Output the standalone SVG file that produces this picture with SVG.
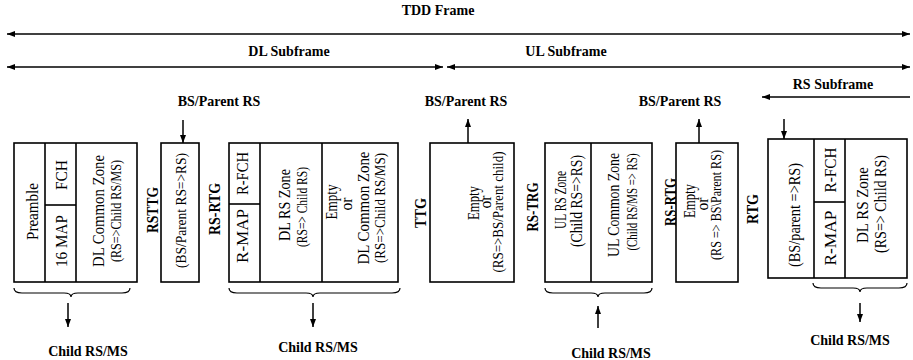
<svg xmlns="http://www.w3.org/2000/svg" width="913" height="360" viewBox="0 0 913 360">
<style>
text{font-family:"Liberation Serif","Times New Roman",serif;fill:#000}
.h{font-size:14px;font-weight:bold;text-anchor:middle}
.m{font-size:17px;text-anchor:middle}
.s{font-size:14px;text-anchor:middle}
.g{font-size:16px;font-weight:bold;text-anchor:middle}
.box{fill:#fff;stroke:#000;stroke-width:1.6}
.ln{stroke:#000;stroke-width:1.6;fill:none}
.ar{stroke:#000;stroke-width:1.5;fill:none;marker-end:url(#ah)}
.dar{stroke:#000;stroke-width:1.6;fill:none;marker-end:url(#ah);marker-start:url(#ah)}
.br{stroke:#000;stroke-width:1.2;fill:none}
</style>
<defs>
<marker id="ah" viewBox="0 0 8 6" refX="8" refY="3" markerWidth="8" markerHeight="6" markerUnits="userSpaceOnUse" orient="auto-start-reverse">
<path d="M0,0 L8,3 L0,6 z" fill="#000"/>
</marker>
</defs>
<rect width="913" height="360" fill="#fff"/>

<g id="connectors">
<line class="dar" x1="7" y1="34" x2="910" y2="34"/>
<line class="dar" x1="7" y1="67" x2="443" y2="67"/>
<line class="dar" x1="447" y1="67" x2="910" y2="67"/>
<line class="ar" x1="910" y1="97" x2="762" y2="97"/>
<line class="ar" x1="183" y1="120" x2="183" y2="143"/>
<line class="ar" x1="468" y1="143" x2="468" y2="119"/>
<line class="ar" x1="699" y1="143" x2="699" y2="119"/>
<line class="ar" x1="784" y1="119" x2="784" y2="139"/>
<path class="br" d="M14,288 Q14,293 22,293 L64,293 Q71,293 71,297 Q71,293 78,293 L122,293 Q130,293 130,288"/>
<path class="br" d="M229,288 Q229,293 237,293 L306,293 Q313,293 313,297 Q313,293 320,293 L392,293 Q400,293 400,288"/>
<path class="br" d="M545,288 Q545,293 553,293 L591,293 Q598,293 598,297 Q598,293 605,293 L644,293 Q652,293 652,288"/>
<path class="br" d="M813,283 Q813,288 821,288 L853,288 Q860,288 860,292 Q860,288 867,288 L899,288 Q907,288 907,283"/>
<line class="ar" x1="68" y1="303" x2="68" y2="327"/>
<line class="ar" x1="313" y1="303" x2="313" y2="327"/>
<line class="ar" x1="598" y1="328" x2="598" y2="306"/>
<line class="ar" x1="860" y1="303" x2="860" y2="322"/>
</g>

<g id="labels">
<text class="h" x="438" y="15">TDD Frame</text>
<text class="h" x="289" y="56">DL Subframe</text>
<text class="h" x="566" y="56">UL Subframe</text>
<text class="h" x="833" y="89">RS Subframe</text>
<text class="h" x="219" y="106">BS/Parent RS</text>
<text class="h" x="466" y="106">BS/Parent RS</text>
<text class="h" x="680" y="106">BS/Parent RS</text>
<text class="h" x="88" y="356">Child RS/MS</text>
<text class="h" x="318" y="352">Child RS/MS</text>
<text class="h" x="611" y="358">Child RS/MS</text>
<text class="h" x="850" y="345">Child RS/MS</text>
</g>

<g id="gaps">
<text class="g" dy="0.35em" transform="translate(152.5,210) rotate(-90)" textLength="46" lengthAdjust="spacingAndGlyphs">RSTTG</text>
<text class="g" dy="0.35em" transform="translate(214,209) rotate(-90)" textLength="52" lengthAdjust="spacingAndGlyphs">RS-RTG</text>
<text class="g" dy="0.35em" transform="translate(420,213) rotate(-90)" textLength="30" lengthAdjust="spacingAndGlyphs">TTG</text>
<text class="g" dy="0.35em" transform="translate(532,207) rotate(-90)" textLength="49" lengthAdjust="spacingAndGlyphs">RS-TRG</text>
<text class="g" dy="0.35em" transform="translate(670,202) rotate(-90)" textLength="48" lengthAdjust="spacingAndGlyphs">RS-RTG</text>
<text class="g" dy="0.35em" transform="translate(752,209) rotate(-90)" textLength="30" lengthAdjust="spacingAndGlyphs">RTG</text>
</g>

<g id="frame-dl">
<rect class="box" x="14" y="143" width="123" height="139"/>
<line class="ln" x1="45" y1="143" x2="45" y2="282"/>
<line class="ln" x1="76" y1="143" x2="76" y2="282"/>
<line class="ln" x1="45" y1="205" x2="76" y2="205"/>
<text class="m" dy="0.35em" transform="translate(32.5,211.5) rotate(-90)" textLength="57" lengthAdjust="spacingAndGlyphs">Preamble</text>
<text class="m" dy="0.35em" transform="translate(61.5,175) rotate(-90)" textLength="30" lengthAdjust="spacingAndGlyphs">FCH</text>
<text class="m" dy="0.35em" transform="translate(61.5,241) rotate(-90)" textLength="52" lengthAdjust="spacingAndGlyphs">16 MAP</text>
<text class="m" dy="0.35em" transform="translate(98.5,211) rotate(-90)" textLength="112" lengthAdjust="spacingAndGlyphs">DL Common Zone</text>
<text class="s" dy="0.35em" transform="translate(116,211) rotate(-90)" textLength="102" lengthAdjust="spacingAndGlyphs">(RS=&gt;Child RS/MS)</text>
</g>

<g id="rs-dl">
<rect class="box" x="161" y="143" width="38" height="139"/>
<text class="s" dy="0.35em" transform="translate(181,210.5) rotate(-90)" textLength="115" lengthAdjust="spacingAndGlyphs">(BS/Parent RS=&gt;RS)</text>
</g>

<g id="dl-rs-zone">
<rect class="box" x="229" y="143" width="169" height="139"/>
<line class="ln" x1="260" y1="143" x2="260" y2="282"/>
<line class="ln" x1="322" y1="143" x2="322" y2="282"/>
<line class="ln" x1="229" y1="204" x2="260" y2="204"/>
<text class="m" dy="0.35em" transform="translate(242,173.5) rotate(-90)" textLength="43" lengthAdjust="spacingAndGlyphs">R-FCH</text>
<text class="m" dy="0.35em" transform="translate(242,236) rotate(-90)" textLength="54" lengthAdjust="spacingAndGlyphs">R-MAP</text>
<text class="m" dy="0.35em" transform="translate(284,205) rotate(-90)" textLength="72" lengthAdjust="spacingAndGlyphs">DL RS Zone</text>
<text class="s" dy="0.35em" transform="translate(302,207) rotate(-90)" textLength="80" lengthAdjust="spacingAndGlyphs">(RS=&gt; Child RS)</text>
<text class="m" dy="0.35em" transform="translate(331,202) rotate(-90)" textLength="35" lengthAdjust="spacingAndGlyphs">Empty</text>
<text class="m" dy="0.35em" transform="translate(346,204) rotate(-90)" textLength="13" lengthAdjust="spacingAndGlyphs">or</text>
<text class="m" dy="0.35em" transform="translate(363,208) rotate(-90)" textLength="113" lengthAdjust="spacingAndGlyphs">DL Common Zone</text>
<text class="s" dy="0.35em" transform="translate(380,208) rotate(-90)" textLength="110" lengthAdjust="spacingAndGlyphs">(RS=&gt;Child RS/MS)</text>
</g>

<g id="rs-ul">
<rect class="box" x="430" y="143" width="84" height="139"/>
<text class="m" dy="0.35em" transform="translate(473,203) rotate(-90)" textLength="34" lengthAdjust="spacingAndGlyphs">Empty</text>
<text class="m" dy="0.35em" transform="translate(485,202) rotate(-90)" textLength="13" lengthAdjust="spacingAndGlyphs">or</text>
<text class="s" dy="0.35em" transform="translate(498,212) rotate(-90)" textLength="121" lengthAdjust="spacingAndGlyphs">(RS=&gt;BS/Parent child)</text>
</g>

<g id="ul-zones">
<rect class="box" x="545" y="143" width="107" height="139"/>
<line class="ln" x1="591" y1="143" x2="591" y2="282"/>
<text class="m" dy="0.35em" transform="translate(560,200) rotate(-90)" textLength="58" lengthAdjust="spacingAndGlyphs">UL RS Zone</text>
<text class="m" dy="0.35em" transform="translate(576,201) rotate(-90)" textLength="92" lengthAdjust="spacingAndGlyphs">(Child RS=&gt;RS)</text>
<text class="m" dy="0.35em" transform="translate(613,205) rotate(-90)" textLength="104" lengthAdjust="spacingAndGlyphs">UL Common Zone</text>
<text class="s" dy="0.35em" transform="translate(632,202) rotate(-90)" textLength="97" lengthAdjust="spacingAndGlyphs">(Child RS/MS =&gt; RS)</text>
</g>

<g id="rs-ul2">
<rect class="box" x="676" y="143" width="62" height="139"/>
<text class="m" dy="0.35em" transform="translate(689,201) rotate(-90)" textLength="34" lengthAdjust="spacingAndGlyphs">Empty</text>
<text class="m" dy="0.35em" transform="translate(702,204) rotate(-90)" textLength="13" lengthAdjust="spacingAndGlyphs">or</text>
<text class="s" dy="0.35em" transform="translate(716,205) rotate(-90)" textLength="110" lengthAdjust="spacingAndGlyphs">(RS =&gt; BS\Parent RS)</text>
</g>

<g id="rs-subframe">
<rect class="box" x="768" y="139" width="139" height="139"/>
<line class="ln" x1="814" y1="139" x2="814" y2="278"/>
<line class="ln" x1="845" y1="139" x2="845" y2="278"/>
<line class="ln" x1="814" y1="202" x2="845" y2="202"/>
<text class="m" dy="0.35em" transform="translate(794,215) rotate(-90)" textLength="104" lengthAdjust="spacingAndGlyphs">(BS/parent =&gt;RS)</text>
<text class="m" dy="0.35em" transform="translate(830,170) rotate(-90)" textLength="45" lengthAdjust="spacingAndGlyphs">R-FCH</text>
<text class="m" dy="0.35em" transform="translate(830,238) rotate(-90)" textLength="55" lengthAdjust="spacingAndGlyphs">R-MAP</text>
<text class="m" dy="0.35em" transform="translate(862,205) rotate(-90)" textLength="76" lengthAdjust="spacingAndGlyphs">DL RS Zone</text>
<text class="m" dy="0.35em" transform="translate(880,204) rotate(-90)" textLength="98" lengthAdjust="spacingAndGlyphs">(RS=&gt; Child RS)</text>
</g>
</svg>
